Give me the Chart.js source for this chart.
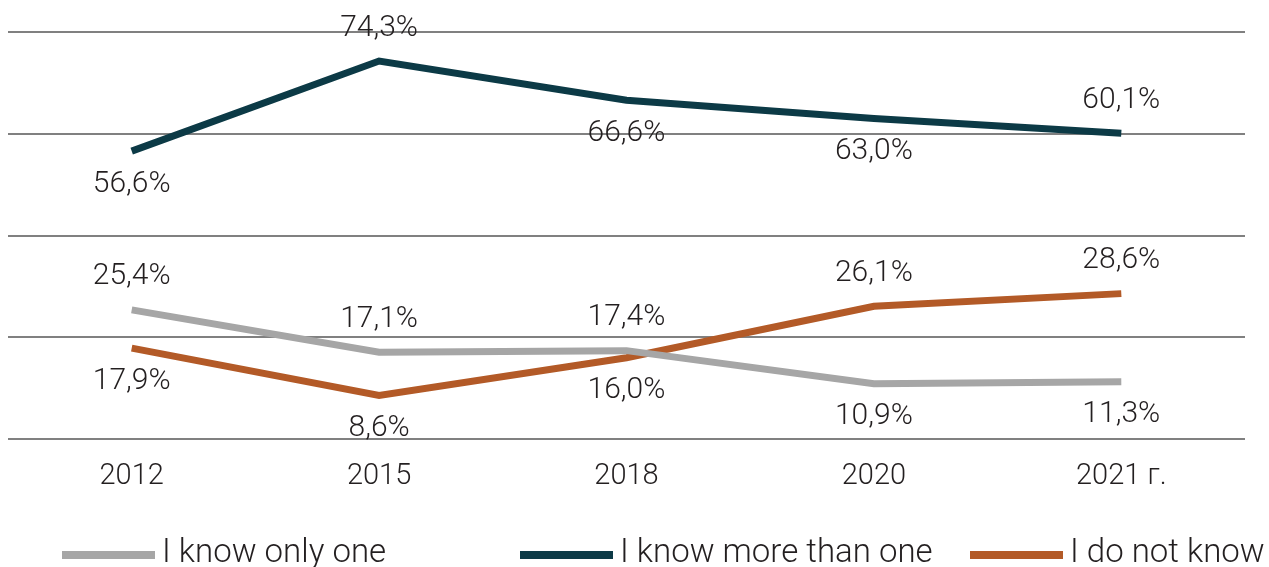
<!DOCTYPE html>
<html>
<head>
<meta charset="utf-8">
<script src="https://cdn.jsdelivr.net/npm/chart.js@4"></script>
<style>
  html, body { margin: 0; padding: 0; background: #fff; overflow: hidden; }
  #wrap { width: 1269px; height: 567px; position: relative; }
</style>
</head>
<body>
<div id="wrap"><canvas id="lineChart"></canvas></div>
<script>
// Years on the x axis
const years = ['2012', '2015', '2018', '2020', '2021 г.'];

// Series values (%)
const knowOnlyOne = [25.4, 17.1, 17.4, 10.9, 11.3];
const knowMoreThanOne = [56.6, 74.3, 66.6, 63.0, 60.1];
const doNotKnow = [17.9, 8.6, 16.0, 26.1, 28.6];

// Y axis range (no tick labels shown, only grid lines)
const yTicks = [0, 20, 40, 60, 80];

// Where each value label sits relative to its point: 1 = above, -1 = below
const labelSide = {
    0: [1, 1, 1, -1, -1],
    1: [-1, 1, -1, -1, 1],
    2: [-1, -1, -1, 1, 1]
};

const fontFamily = 'Roboto, "Open Sans", sans-serif';
const textColor = '#231f20';

// value labels next to each point
const valueLabels = {
    id: 'valueLabels',
    afterDatasetsDraw(chart) {
        const ctx = chart.ctx;
        ctx.save();
        ctx.font = '300 30px ' + fontFamily;
        ctx.fillStyle = textColor;
        ctx.textAlign = 'center';
        ctx.textBaseline = 'middle';
        chart.data.datasets.forEach((ds, i) => {
            const meta = chart.getDatasetMeta(i);
            meta.data.forEach((pt, j) => {
                const side = labelSide[i][j];
                const txt = ds.data[j].toFixed(1).replace('.', ',') + '%';
                ctx.fillText(txt, pt.x, pt.y - side * 33);
            });
        });
        ctx.restore();
    }
};

// legend along the bottom edge (uneven spacing as in the original)
const legendX = [62, 520, 970];
const bottomLegend = {
    id: 'bottomLegend',
    afterDraw(chart) {
        const ctx = chart.ctx;
        const y = chart.height - 12;
        ctx.save();
        ctx.font = '300 33px ' + fontFamily;
        ctx.fillStyle = textColor;
        ctx.textBaseline = 'middle';
        chart.data.datasets.forEach((ds, i) => {
            ctx.fillStyle = ds.borderColor;
            ctx.fillRect(legendX[i], y - 4, 93, 8);
            ctx.fillStyle = textColor;
            ctx.fillText(ds.label, legendX[i] + 100, y - 1);
        });
        ctx.restore();
    }
};

const config = {
    type: 'line',
    data: {
        labels: years,
        datasets: [
            {
                label: 'I know only one',
                data: knowOnlyOne,
                borderColor: '#a6a6a6',
                backgroundColor: '#a6a6a6',
                borderWidth: 7
            },
            {
                label: 'I know more than one',
                data: knowMoreThanOne,
                borderColor: '#0c3a46',
                backgroundColor: '#0c3a46',
                borderWidth: 7
            },
            {
                label: 'I do not know',
                data: doNotKnow,
                borderColor: '#b35a27',
                backgroundColor: '#b35a27',
                borderWidth: 7
            }
        ]
    },
    options: {
        responsive: true,
        maintainAspectRatio: false,
        animation: false,
        elements: {
            point: { radius: 0, hoverRadius: 0 },
            line: { tension: 0, borderCapStyle: 'butt', borderJoinStyle: 'miter' }
        },
        layout: { padding: { top: 32, left: 8, right: 24, bottom: 61 } },
        plugins: {
            legend: { display: false },
            tooltip: { enabled: false }
        },
        scales: {
            x: {
                offset: true,
                grid: { display: false },
                border: { display: false },
                ticks: {
                    color: textColor,
                    padding: 12,
                    font: { family: fontFamily, size: 29, weight: '300' }
                }
            },
            y: {
                min: yTicks[0],
                max: yTicks[yTicks.length - 1],
                ticks: { display: false, stepSize: yTicks[1] - yTicks[0] },
                grid: { color: '#808080', lineWidth: 2, drawTicks: false },
                border: { display: false }
            }
        }
    },
    plugins: [valueLabels, bottomLegend]
};

window.addEventListener('DOMContentLoaded', () => {
    new Chart(document.getElementById('lineChart'), config);
});
</script>
</body>
</html>
